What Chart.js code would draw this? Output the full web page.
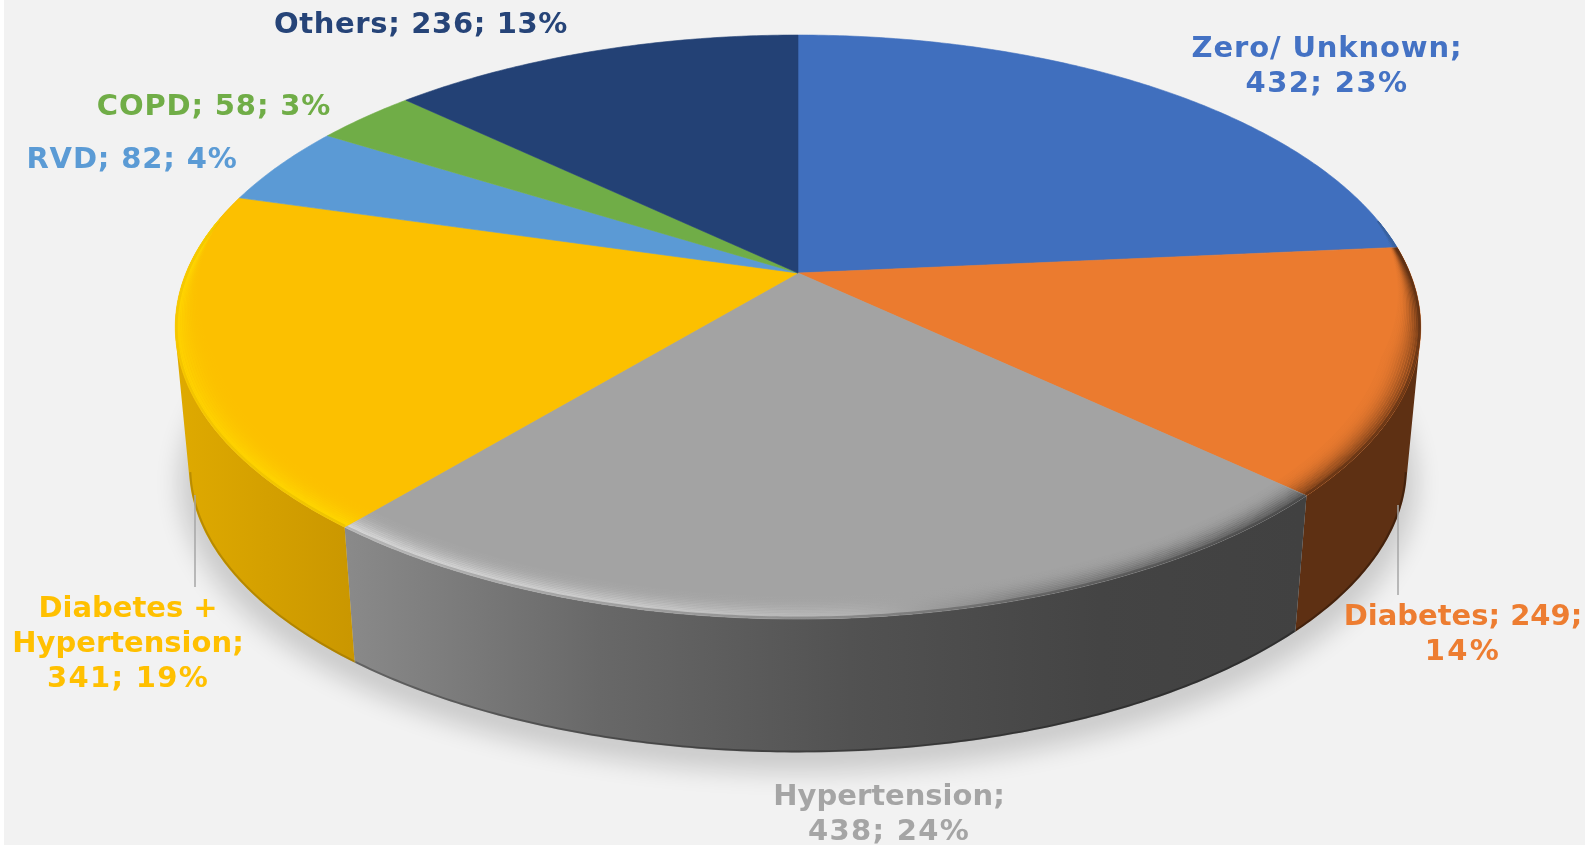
<!DOCTYPE html>
<html><head><meta charset="utf-8">
<script src="https://cdn.jsdelivr.net/npm/chart.js@4/dist/chart.umd.min.js"></script>
<style>html,body{margin:0;padding:0;background:#fff;overflow:hidden}canvas{display:block}</style>
</head><body><canvas id="c" width="1585" height="845"></canvas>
<script>
const categories = ["Zero/ Unknown","Diabetes","Hypertension","Diabetes + Hypertension","RVD","COPD","Others"];
const values = [432,249,438,341,82,58,236];
const percents = [23,14,24,19,4,3,13];
const topColors = ["#406fbe","#eb7b2f","#a3a3a3","#fcc000","#5b9ad5","#70ad47","#234175"];
const textColors = ["#4472c4","#ed7d31","#a5a5a5","#ffc000","#5b9bd5","#70ad47","#264478"];
const labelLines = [
  ["Zero/ Unknown;","432; 23%"],["Diabetes; 249;","14%"],["Hypertension;","438; 24%"],
  ["Diabetes +","Hypertension;","341; 19%"],["RVD; 82; 4%"],["COPD; 58; 3%"],["Others; 236; 13%"]
];
const labelSpacing = [[0.87,1.4],[0,2.3],[0,1.3],[0,0,1.3],[0.85],[0.85],[0.65]];
const labelCenters = [1327,1463,889,128,132,214,421];
const labelBaselines = [57,625,805,617,168,115,33];
const LINE_H = 35, FONT = 'bold 29px "DejaVu Sans"';
const leaders = [[1398,505,1398,595],[195,495,195,587]];
// projection of the flat pie onto the tilted view
const P = {cx:798,cy:273,A:612,B:282,k:0.185,scale:0.978,drop:141};
// wall gradient (x, colour) per slice
const wallStops = {
  1:[[1280,"#5e3013"],[1420,"#5e3013"]],
  2:[[345,"#8a8a8a"],[600,"#686868"],[850,"#525252"],[1100,"#444444"],[1300,"#414141"]],
  3:[[175,"#dfaa00"],[360,"#c99600"]]
};
const rimStops = {
  0:[[1100,"#38619f"],[1420,"#38619f"]],
  1:[[1280,"#5e3013"],[1420,"#5e3013"]],
  2:[[345,"#e6e6e6"],[640,"#d4d4d4"],[850,"#b8b8b8"],[1020,"#7a7a7a"],[1300,"#424242"]],
  3:[[175,"#ffd800"],[360,"#ffdd00"]]
};
const edgeAlpha = {1:0.55,2:0.45,3:0.3};

function proj(a,r){
  const u=Math.cos(a)*r, v=-Math.sin(a)*r, w=1+P.k*v;
  return [P.cx+P.A*u/w, P.cy-P.B*v/w];
}
function low(p){return [P.cx+(p[0]-P.cx)*P.scale, P.cy+P.drop+(p[1]-P.cy)*P.scale];}
function angles(a0,a1){const n=Math.max(2,Math.ceil((a1-a0)/0.01)),o=[];for(let i=0;i<=n;i++)o.push(a0+(a1-a0)*i/n);return o;}
function grad(ctx,stops){const x0=stops[0][0],x1=stops[stops.length-1][0],g=ctx.createLinearGradient(x0,0,x1,0);
  stops.forEach(s=>g.addColorStop((s[0]-x0)/(x1-x0),s[1]));return g;}
function slicePath(ctx,el){ctx.beginPath();const c=proj(0,0);ctx.moveTo(c[0],c[1]);
  angles(el.startAngle,el.endAngle).forEach(a=>{const p=proj(a,1);ctx.lineTo(p[0],p[1]);});ctx.closePath();}
function frontAngles(el){return angles(el.startAngle,el.endAngle).filter(a=>-Math.sin(a)<0.2);}
function polyline(ctx,pts){ctx.beginPath();pts.forEach((p,j)=>{j?ctx.lineTo(p[0],p[1]):ctx.moveTo(p[0],p[1]);});}

const pie3d = {
  id:'pie3d',
  beforeDraw(chart){const c=chart.ctx;c.save();c.fillStyle='#fff';c.fillRect(0,0,1585,845);c.fillStyle='#f2f2f2';c.fillRect(4,0,1581,845);c.restore();},
  beforeDatasetDraw(chart,args){
    const ctx=chart.ctx, arcs=chart.getDatasetMeta(args.index).data;
    ctx.save();
    // floor shadow (shape kept off canvas, only its shadow lands)
    ctx.save();ctx.shadowColor='rgba(0,0,0,0.16)';ctx.shadowBlur=24;ctx.shadowOffsetX=3000;ctx.shadowOffsetY=14;ctx.fillStyle='#000';
    polyline(ctx,angles(-Math.PI/2,1.5*Math.PI).map(a=>{const q=low(proj(a,1.015));return [q[0]-3000,q[1]];}));ctx.closePath();ctx.fill();ctx.restore();
    // walls: every swept piece wound the same way, then one fill
    arcs.forEach((el,i)=>{
      if(!wallStops[i])return;
      const as=angles(el.startAngle,el.endAngle);
      ctx.beginPath();
      for(let j=0;j<as.length-1;j++){
        let q=[proj(as[j],1),proj(as[j+1],1)];q.push(low(q[1]),low(q[0]));
        let s=0;q.forEach((p,n)=>{const o=q[(n+1)%4];s+=p[0]*o[1]-o[0]*p[1];});
        if(s<0)q.reverse();
        q.forEach((p,n)=>{n?ctx.lineTo(p[0],p[1]):ctx.moveTo(p[0],p[1]);});ctx.closePath();
      }
      ctx.fillStyle=grad(ctx,wallStops[i]);ctx.fill();
      // darker lower edge, only where the bottom rim is the visible outline
      polyline(ctx,as.filter(a=>-Math.sin(a)<-0.2).map(a=>low(proj(a,0.998))));
      ctx.strokeStyle=i===3?'rgba(120,90,0,0.35)':'rgba(0,0,0,0.28)';ctx.lineWidth=2;ctx.stroke();
    });
    // top face
    arcs.forEach((el,i)=>{
      slicePath(ctx,el);ctx.fillStyle=topColors[i];ctx.fill();
      ctx.strokeStyle=topColors[i];ctx.lineWidth=0.6;ctx.stroke();
    });
    // bevel along the rim
    arcs.forEach((el,i)=>{
      if(!rimStops[i])return;
      const as=frontAngles(el);
      if(as.length<2)return;
      ctx.save();slicePath(ctx,el);ctx.clip();
      ctx.strokeStyle=grad(ctx,rimStops[i]);ctx.lineWidth=2.2;
      const N=14;
      for(let t=0;t<=N;t++){
        const f=t/N;ctx.globalAlpha=Math.min(1,f*f*0.9+0.02);
        polyline(ctx,as.map(a=>{const v=-Math.sin(a);const d=0.052*Math.max(0,Math.min(1,(0.2-v)/0.5));return proj(a,1-d*(1-f));}));
        ctx.stroke();
      }
      ctx.restore();
      if(wallStops[i]){
        ctx.save();slicePath(ctx,el);ctx.clip();ctx.globalAlpha=edgeAlpha[i];ctx.strokeStyle=grad(ctx,wallStops[i]);ctx.lineWidth=5;
        polyline(ctx,as.map(a=>proj(a,1)));ctx.stroke();ctx.restore();
      }
    });
    ctx.restore();
    return false;
  },
  afterDraw(chart){
    const ctx=chart.ctx;ctx.save();
    ctx.strokeStyle='#a6a6a6';ctx.lineWidth=1.5;
    leaders.forEach(l=>{ctx.beginPath();ctx.moveTo(l[0],l[1]);ctx.lineTo(l[2],l[3]);ctx.stroke();});
    ctx.font=FONT;ctx.textAlign='center';ctx.textBaseline='alphabetic';
    labelLines.forEach((lines,i)=>{ctx.fillStyle=textColors[i];
      lines.forEach((s,j)=>{ctx.letterSpacing=labelSpacing[i][j]+'px';ctx.fillText(s,labelCenters[i],labelBaselines[i]+j*LINE_H);});});
    ctx.restore();
  }
};

new Chart(document.getElementById('c'),{
  type:'pie',
  data:{labels:categories,datasets:[{data:values,backgroundColor:topColors,borderWidth:0}]},
  options:{responsive:false,animation:false,events:[],
    plugins:{legend:{display:false},tooltip:{enabled:false}}},
  plugins:[pie3d]
});
</script></body></html>
